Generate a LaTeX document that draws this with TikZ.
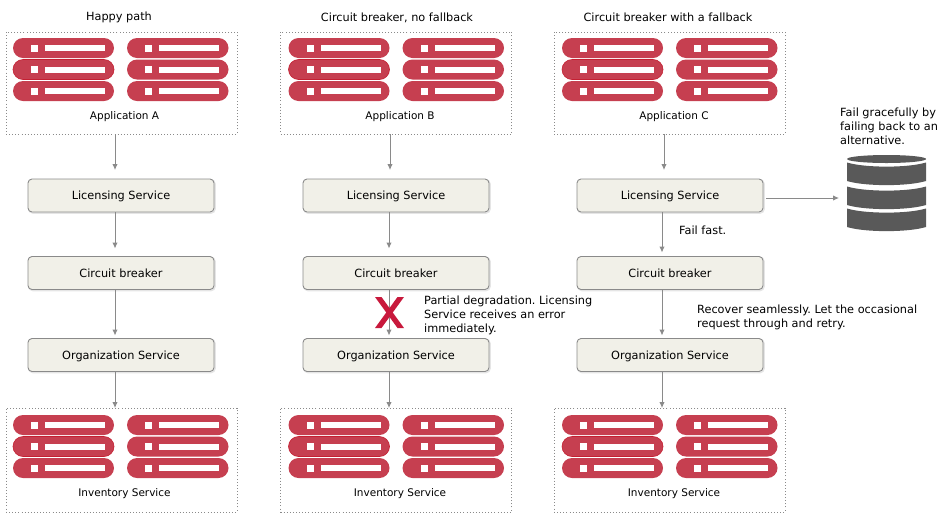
\documentclass[tikz,border=0pt]{standalone}
\usepackage{fontspec}
\setmainfont{DejaVu Sans}
\frenchspacing
\usetikzlibrary{arrows.meta}
\definecolor{pillred}{HTML}{C63F50}
\definecolor{pilledge}{HTML}{C42032}
\definecolor{xred}{HTML}{C8193C}
\definecolor{svcfill}{HTML}{F1F0E8}
\definecolor{dbgray}{HTML}{595959}
\definecolor{linegray}{HTML}{8A8A8A}
\tikzset{
  txt/.style={font=\fontsize{11.3}{14}\selectfont,inner sep=0pt,text=black},
  small/.style={font=\fontsize{10.5}{14}\selectfont,inner sep=0pt,text=black},
  lbl/.style={txt,align=left,anchor=north west},
  dotbox/.style={draw=linegray,line width=0.9pt,dash pattern=on 1pt off 2.1pt,minimum width=231pt,inner sep=0pt,outer sep=0pt},
  svc/.style={txt,text height=9pt,text depth=1pt,draw=linegray,line width=0.9pt,fill=svcfill,rounded corners=4pt,minimum width=186pt,minimum height=33pt,outer sep=0pt,
    preaction={draw=black!10,line width=1.6pt,transform canvas={xshift=1pt,yshift=-1pt}}},
  arr/.style={draw=linegray,line width=1pt,-{Latex[length=6pt,width=5.5pt]}},
  pill/.style={fill=pillred,rounded corners=10pt},
  pillb/.style={fill=pillred,draw=pilledge,line width=0.6pt,rounded corners=10pt},
}
% left, top of a group of six pills
\newcommand{\pillgroup}[2]{%
  \foreach \r/\st in {0/pill,21.5/pillb,43/pill}{
    \path[\st] (#1,#2+\r) rectangle +(101,20);
    \fill[white] (#1+18,#2+\r+6.5) rectangle +(7,7);
    \fill[white] (#1+32,#2+\r+7) rectangle +(60,6);
    \path[pill] (#1+114,#2+\r) rectangle +(101.5,20);
    \fill[white] (#1+132,#2+\r+6.5) rectangle +(7,7);
    \fill[white] (#1+146,#2+\r+7) rectangle +(60,6);
  }}
\begin{document}
\begin{tikzpicture}[x=1pt,y=-1pt]
\useasboundingbox (0,0) rectangle (944,515);
% titles
\node[txt] (titleA) at (119,17.5) {Happy path};
\node[txt] (titleB) at (397,17.5) {Circuit breaker, no fallback};
\node[txt] (titleC) at (668,17.5) {Circuit breaker with a fallback};
% upper and lower dotted groups
\node[dotbox,minimum height=102pt] (appA) at (121.5,83) {};
\node[dotbox,minimum height=102pt] (appB) at (396,83) {};
\node[dotbox,minimum height=102pt] (appC) at (669.5,83) {};
\node[dotbox,minimum height=104pt] (invA) at (121.5,460) {};
\node[dotbox,minimum height=104pt] (invB) at (396,460) {};
\node[dotbox,minimum height=104pt] (invC) at (669.5,460) {};
\pillgroup{13}{38}
\pillgroup{288.5}{38}
\pillgroup{562}{38}
\pillgroup{13}{415}
\pillgroup{288.5}{415}
\pillgroup{562}{415}
\node[small] (appAl) at (124.5,117) {Application A};
\node[small] (appBl) at (400,117) {Application B};
\node[small] (appCl) at (674,117) {Application C};
\node[small] (invAl) at (124.5,494) {Inventory Service};
\node[small] (invBl) at (400,494) {Inventory Service};
\node[small] (invCl) at (674,494) {Inventory Service};
% services
\foreach \c/\x in {A/121,B/396,C/670}{
  \node[svc] (lic\c) at (\x,195.5) {Licensing Service};
  \node[svc] (cb\c) at (\x,273) {Circuit breaker};
  \node[svc] (org\c) at (\x,355) {Organization Service};
}
% connectors
\draw[arr] ([xshift=-6.5pt]appA.south) -- ([xshift=-6pt,yshift=9pt]licA.north);
\draw[arr] ([xshift=-6pt]licA.south) -- ([xshift=-6pt,yshift=8pt]cbA.north);
\draw[arr] ([xshift=-6pt]cbA.south) -- ([xshift=-6pt,yshift=3pt]orgA.north);
\draw[arr] ([xshift=-6pt]orgA.south) -- ([xshift=-6.5pt]invA.north);
\draw[arr] ([xshift=-6pt]appB.south) -- ([xshift=-6pt,yshift=9pt]licB.north);
\draw[arr] ([xshift=-7pt]licB.south) -- ([xshift=-7pt,yshift=8pt]cbB.north);
\draw[arr] ([xshift=-7pt]cbB.south) -- ([xshift=-7pt,yshift=3pt]orgB.north);
\draw[arr] ([xshift=-7pt]orgB.south) -- ([xshift=-7pt]invB.north);
\draw[arr] ([xshift=-5.5pt]appC.south) -- ([xshift=-6pt,yshift=9pt]licC.north);
\draw[arr] ([xshift=-8pt]licC.south) -- ([xshift=-8pt,yshift=4pt]cbC.north);
\draw[arr] ([xshift=-8pt]cbC.south) -- ([xshift=-8pt,yshift=3pt]orgC.north);
\draw[arr] ([xshift=-8pt]orgC.south) -- ([xshift=-7.5pt]invC.north);
% red cross
\fill[xred] (375,297) -- (381.5,297) -- (404,328) -- (397.5,328) -- cycle;
\fill[xred] (397.5,297) -- (404,297) -- (381.5,328) -- (375,328) -- cycle;
% database
\fill[dbgray] (886.5,159) ellipse [x radius=39.5,y radius=4];
\foreach \t/\b in {162.5/181,186.5/205,208.5/227}{
  \fill[dbgray] (847,\t) .. controls (865,\t+5.5) and (908,\t+5.5) .. (926,\t)
     -- (926,\b) .. controls (908,\b+5.5) and (865,\b+5.5) .. (847,\b) -- cycle;
}
\coordinate (dbin) at (839,198);
\draw[arr] ([xshift=3pt,yshift=-2.5pt]licC.east) -- (dbin);
% annotations
\node[lbl] (partial) at (424,295.5) {Partial degradation. Licensing\\Service receives an error\\immediately.};
\node[lbl] (fast) at (679,225.5) {Fail fast.};
\node[lbl] (recover) at (697,304.5) {Recover seamlessly. Let the occasional\\request through and retry.};
\node[lbl] (grace) at (840,107.5) {Fail gracefully by\\failing back to an\\alternative.};
\end{tikzpicture}
\end{document}
